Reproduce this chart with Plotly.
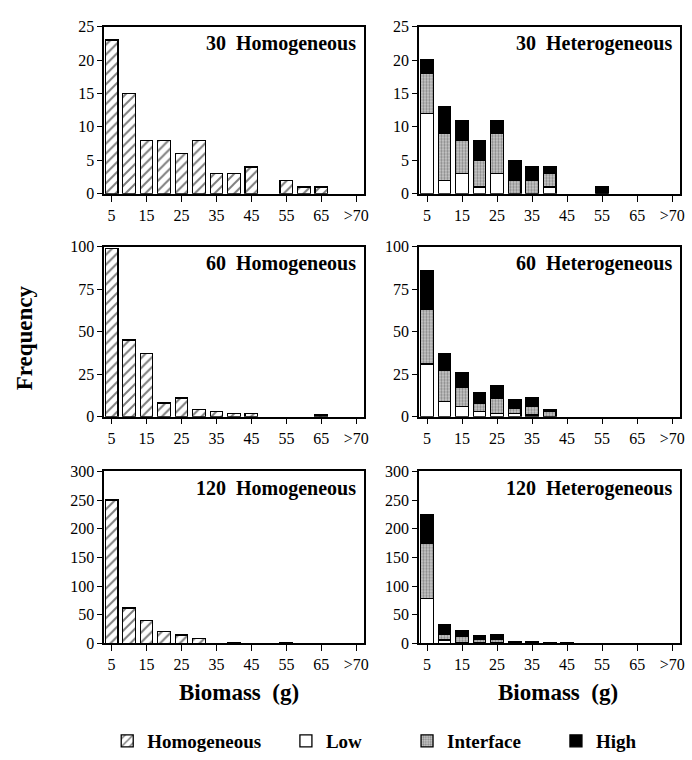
import plotly.graph_objects as go

W, H = 692, 760

# ---------------- data ----------------
cats = ["5", "10", "15", "20", "25", "30", "35", "40", "45", "50", "55", "60", "65", "70", ">70"]
tick_cats = ["5", "15", "25", "35", "45", "55", "65", ">70"]

hom30 = [23, 15, 8, 8, 6, 8, 3, 3, 4, 0, 2, 1, 1, 0, 0]
hom60 = [99, 45, 37, 8, 11, 4, 3, 2, 2, 0, 0, 0, 1, 0, 0]
hom120 = [250, 62, 40, 21, 15, 9, 0, 1, 0, 0, 1, 0, 0, 0, 0]

het30_low = [12, 2, 3, 1, 3, 0, 0, 1, 0, 0, 0, 0, 0, 0, 0]
het30_int = [6, 7, 5, 4, 6, 2, 2, 2, 0, 0, 0, 0, 0, 0, 0]
het30_high = [2, 4, 3, 3, 2, 3, 2, 1, 0, 0, 1, 0, 0, 0, 0]

het60_low = [31, 9, 6, 3, 2, 2, 1, 0, 0, 0, 0, 0, 0, 0, 0]
het60_int = [32, 18, 11, 5, 9, 3, 5, 3, 0, 0, 0, 0, 0, 0, 0]
het60_high = [23, 10, 9, 6, 7, 5, 5, 1, 0, 0, 0, 0, 0, 0, 0]

het120_low = [78, 6, 2, 1, 2, 0, 0, 0, 0, 0, 0, 0, 0, 0, 0]
het120_int = [97, 10, 11, 7, 5, 1, 1, 1, 1, 0, 0, 0, 0, 0, 0]
het120_high = [50, 16, 9, 6, 8, 3, 3, 0, 0, 0, 0, 0, 0, 0, 0]

panel_titles = ["30\u00a0\u00a0Homogeneous", "30\u00a0\u00a0Heterogeneous",
                "60\u00a0\u00a0Homogeneous", "60\u00a0\u00a0Heterogeneous",
                "120\u00a0\u00a0Homogeneous", "120\u00a0\u00a0Heterogeneous"]
y_max = [25, 25, 100, 100, 300, 300]
y_dtick = [5, 5, 25, 25, 50, 50]

# ---------------- style ----------------
SERIF = "Liberation Serif, Times New Roman, serif"


def outline(vals):
    # no outline on empty bins so they do not leave marks on the baseline
    return dict(color="black", width=[1.3 if v > 0 else 0 for v in vals])


def hom_marker(vals):
    return dict(color="white", line=outline(vals),
                pattern=dict(shape="/", fgcolor="black", bgcolor="white", size=7, solidity=0.28))


def low_marker(vals):
    return dict(color="white", line=outline(vals))


def int_marker(vals):
    return dict(color="#b0b0b0", line=outline(vals),
                pattern=dict(shape=".", fgcolor="#404040", bgcolor="#cccccc", size=3, solidity=0.45))


def high_marker(vals):
    return dict(color="black", line=outline(vals))


# pixel geometry of plot areas
col_px = [(105, 367), (422, 685)]
col_range = [[-0.42, 14.46], [-0.46, 14.45]]
row_px = [(19, 190), (244, 418), (474, 650)]

fig = go.Figure()


def ax_names(i):
    return ("x" if i == 1 else f"x{i}", "y" if i == 1 else f"y{i}")


hom_series = [hom30, hom60, hom120]
het_series = [(het30_low, het30_int, het30_high),
              (het60_low, het60_int, het60_high),
              (het120_low, het120_int, het120_high)]

for r in range(3):
    iL = 2 * r + 1
    iR = 2 * r + 2
    xa, ya = ax_names(iL)
    fig.add_trace(go.Bar(x=cats, y=hom_series[r], marker=hom_marker(hom_series[r]),
                         name="<b>Homogeneous</b>",
                         legendgroup="hom", showlegend=(r == 0), legend="legend",
                         xaxis=xa, yaxis=ya))
    xa, ya = ax_names(iR)
    low, mid, high = het_series[r]
    fig.add_trace(go.Bar(x=cats, y=low, marker=low_marker(low), name="<b>Low</b>",
                         legendgroup="low", showlegend=(r == 0), legend="legend2",
                         xaxis=xa, yaxis=ya))
    fig.add_trace(go.Bar(x=cats, y=mid, marker=int_marker(mid), name="<b>Interface</b>",
                         legendgroup="int", showlegend=(r == 0), legend="legend3",
                         xaxis=xa, yaxis=ya))
    fig.add_trace(go.Bar(x=cats, y=high, marker=high_marker(high), name="<b>High</b>",
                         legendgroup="high", showlegend=(r == 0), legend="legend4",
                         xaxis=xa, yaxis=ya))

layout = dict(
    width=W, height=H,
    margin=dict(l=0, r=0, t=0, b=0),
    paper_bgcolor="white", plot_bgcolor="white",
    barmode="stack", bargap=0.28,
    font=dict(family=SERIF, size=16, color="black"),
)

annotations = []
for i in range(1, 7):
    r = (i - 1) // 2
    c = (i - 1) % 2
    x0, x1 = col_px[c]
    y0, y1 = row_px[r]
    xkey = "xaxis" if i == 1 else f"xaxis{i}"
    ykey = "yaxis" if i == 1 else f"yaxis{i}"
    xa, ya = ax_names(i)
    layout[xkey] = dict(
        domain=[x0 / W, x1 / W], anchor=ya, type="category",
        categoryorder="array", categoryarray=cats,
        range=col_range[c],
        tickmode="array", tickvals=tick_cats, ticktext=tick_cats,
        tickangle=0,
        ticks="outside", ticklen=6, tickwidth=1.3, tickcolor="black",
        showline=True, linecolor="black", linewidth=1.6, mirror=True,
        showgrid=False, zeroline=False,
        tickfont=dict(family=SERIF, size=16, color="black"),
    )
    layout[ykey] = dict(
        domain=[1 - y1 / H, 1 - y0 / H], anchor=xa,
        range=[0, y_max[i - 1]], dtick=y_dtick[i - 1], tick0=0,
        ticks="outside", ticklen=5, tickwidth=1.3, tickcolor="black",
        showline=True, linecolor="black", linewidth=1.6, mirror=True,
        showgrid=False, zeroline=False,
        tickfont=dict(family=SERIF, size=16, color="black"),
    )
    annotations.append(dict(
        text=f"<b>{panel_titles[i - 1]}</b>", xref="paper", yref="paper",
        x=(x1 - 6) / W, y=1 - (y0 + 17) / H, xanchor="right", yanchor="middle",
        showarrow=False, font=dict(family=SERIF, size=20, color="black"),
    ))

annotations.append(dict(text="<b>Frequency</b>", xref="paper", yref="paper",
                        x=25 / W, y=1 - 337 / H, xanchor="center", yanchor="middle",
                        textangle=-90, showarrow=False,
                        font=dict(family=SERIF, size=23, color="black")))
for cx in (241, 562):
    annotations.append(dict(text="<b>Biomass\u00a0\u00a0(g)</b>", xref="paper", yref="paper",
                            x=cx / W, y=1 - 700 / H, xanchor="center", yanchor="middle",
                            showarrow=False, font=dict(family=SERIF, size=23, color="black")))
layout["annotations"] = annotations

leg_font = dict(family=SERIF, size=19, color="black")
leg_y = 1 - 750 / H
for key, px in (("legend", 108), ("legend2", 288), ("legend3", 410), ("legend4", 560)):
    layout[key] = dict(x=px / W, y=leg_y, xanchor="left", yanchor="middle",
                       orientation="h", bgcolor="rgba(0,0,0,0)", itemwidth=30,
                       font=leg_font)

fig.update_layout(**layout)

fig.write_html("out.html")
